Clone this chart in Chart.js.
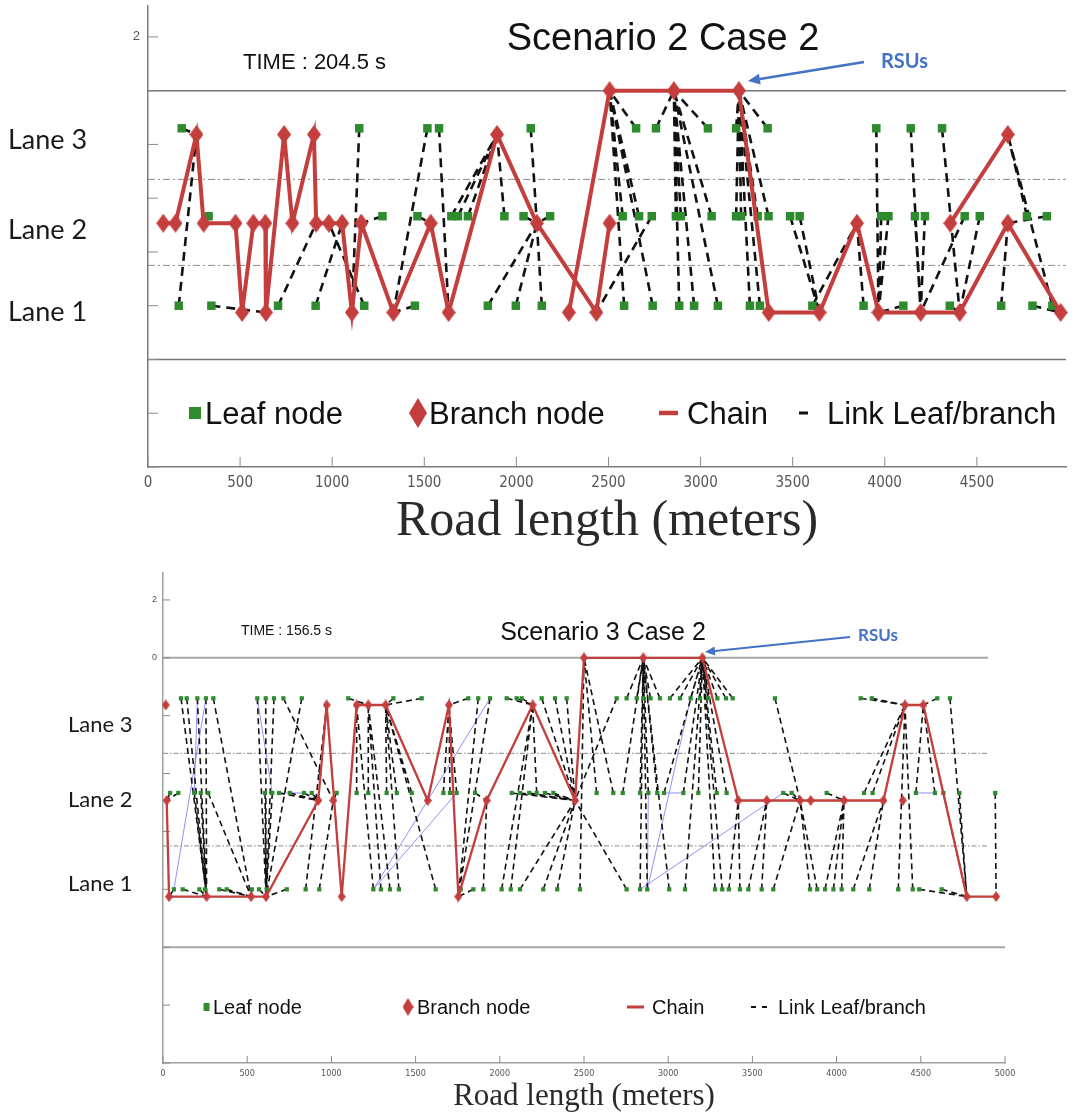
<!DOCTYPE html>
<html>
<head>
<meta charset="utf-8">
<script src="https://cdn.jsdelivr.net/npm/chart.js@4.4.0/dist/chart.umd.min.js"></script>
<style>
  html, body { margin: 0; padding: 0; background: #fff; }
  #wrap { position: relative; width: 1072px; height: 1118px; overflow: hidden; }
  canvas { position: absolute; left: 0; }
  #top { top: 0; }
  #bottom { top: 560px; }
</style>
</head>
<body>
<div id="wrap">
  <canvas id="top" width="1072" height="560"></canvas>
  <canvas id="bottom" width="1072" height="558"></canvas>
</div>
<script>
// y levels of each lane (RSU line = 0, road edge = -10)
var leafLevel = [null, -8.0, -4.67, -1.4];
var branchLevel = [null, -8.25, -4.93, -1.63, 0];
var laneDividers = [-3.3, -6.5];
var roadEdges = [0, -10];
var yTicks = [-14, -12, -10, -8, -6, -4, -2, 0, 2];
var legendLabels = ['Leaf node', 'Branch node', 'Chain', 'Link Leaf/branch'];

// ---- Scenario 2 Case 2 (top) ----
var s2XTicks = [0, 500, 1000, 1500, 2000, 2500, 3000, 3500, 4000, 4500];
var s2YLabels = [2];
// [x (m), lane]  lane 4 = RSU
var s2Branches = [
  [83, 2], [149, 2], [263, 3], [302, 2], [475, 2],
  [511, 1], [572, 2], [637, 2], [640, 1], [739, 3],
  [784, 2], [901, 3], [913, 2], [982, 2], [1054, 2],
  [1107, 1], [1158, 2], [1332, 1], [1535, 2], [1632, 1],
  [1895, 3], [2111, 2], [2434, 1], [2506, 2], [2285, 1],
  [2506, 4], [2855, 4], [3208, 4], [3370, 1], [3646, 1],
  [3849, 2], [3966, 1], [4195, 1], [4407, 1], [4668, 2],
  [4955, 1], [4356, 2], [4668, 3]
];
var s2Chains = [
  [0, 1, 2, 3, 4, 5, 6, 7, 8, 9, 10, 11, 12, 13, 14, 15, 16, 17, 18, 19, 20, 21, 22, 23],
  [24, 25, 26, 27, 28, 29, 30, 31, 32, 33, 34, 35],
  [36, 37]
];
// leaves: [x (m), linked branch index]
var s2Leaf3 = [[183, 2], [1147, 15], [1517, 17], [1580, 19], [2078, 21], [2650, 25], [2758, 26],
  [3040, 26], [3193, 27], [3364, 27], [3954, 31], [4141, 32], [4311, 33]];
var s2Leaf2 = [[329, 3], [1273, 16], [1463, 18], [1647, 20], [1683, 20], [1737, 20], [1935, 20],
  [2039, 21], [2183, 21], [2577, 25], [2666, 25], [2735, 22], [2866, 26], [2893, 26], [3060, 26],
  [3193, 27], [3220, 27], [3310, 27], [3369, 27], [3486, 29], [3538, 29], [3981, 31], [4020, 31],
  [4164, 32], [4218, 32], [4434, 32], [4516, 33], [4772, 37], [4880, 34]];
var s2Leaf1 = [[167, 2], [344, 8], [706, 12], [910, 14], [1174, 13], [1449, 17], [1845, 21],
  [1997, 21], [2138, 21], [2585, 25], [2740, 25], [2884, 26], [2965, 26], [3094, 26], [3268, 27],
  [3322, 27], [3607, 30], [3885, 30], [4101, 31], [4353, 33], [4632, 34], [4802, 35], [4910, 37]];

// ---- Scenario 3 Case 2 (bottom) ----
var s3XTicks = [0, 500, 1000, 1500, 2000, 2500, 3000, 3500, 4000, 4500, 5000];
var s3YLabels = [2, 0];
var s3Branches = [
  [16, 3], [22, 2], [36, 1], [259, 1], [523, 1],
  [612, 1], [922, 2], [972, 3], [1011, 2], [1061, 1],
  [1150, 3], [1219, 3], [1322, 3], [1572, 2], [1698, 3],
  [1754, 1], [1922, 2], [2195, 3], [2447, 2], [2500, 4],
  [2852, 4], [3203, 4], [3416, 2], [3585, 2], [3783, 2],
  [3846, 2], [4044, 2], [4278, 2], [4393, 2], [4406, 3],
  [4515, 3], [4773, 1], [4947, 1]
];
var s3Chains = [
  [1, 2, 3, 4, 5, 6, 7, 9, 10, 11, 12, 13, 14, 15, 16, 17, 18, 19, 20, 21, 22, 23, 24, 25, 26, 27, 29, 30, 31, 32]
];
var s3Leaf3 = [[107, 3], [141, 3], [204, 3], [255, 3], [299, 4], [560, 5], [610, 5], [659, 5],
  [715, 8], [824, 5], [1100, 11], [1368, 12], [1536, 12], [1813, 14], [1872, 15], [1942, 15],
  [2041, 17], [2100, 17], [2130, 17], [2249, 18], [2328, 18], [2397, 18], [2694, 18], [2753, 20],
  [2813, 20], [2852, 20], [2895, 20], [2951, 20], [3010, 21], [3070, 21], [3133, 21], [3189, 21],
  [3238, 21], [3292, 21], [3343, 21], [3383, 21], [3634, 24], [4143, 29], [4209, 29], [4598, 30],
  [4673, 31]];
var s3Leaf2 = [[42, 1], [91, 1], [186, 3], [224, 3], [269, 4], [606, 5], [649, 5], [689, 6],
  [754, 6], [837, 6], [883, 6], [1031, 8], [1150, 10], [1219, 11], [1328, 12], [1388, 12],
  [1477, 12], [1665, 14], [1704, 14], [1744, 14], [1853, 16], [2071, 18], [2120, 18], [2175, 18],
  [2219, 17], [2268, 18], [2318, 18], [2575, 19], [2674, 19], [2730, 20], [2833, 20], [2882, 20],
  [2935, 20], [2975, 21], [3090, 21], [3179, 21], [3288, 21], [3347, 21], [3683, 24], [3733, 24],
  [3941, 26], [4163, 29], [4214, 29], [4471, 30], [4584, 30], [4634, 31], [4729, 31], [4942, 32]];
var s3Leaf1 = [[65, 2], [117, 3], [216, 3], [249, 3], [334, 4], [378, 4], [527, 4], [570, 5],
  [616, 5], [735, 5], [847, 7], [928, 8], [1249, 10], [1294, 11], [1348, 11], [1401, 12],
  [1619, 12], [1768, 15], [1843, 15], [1902, 16], [2011, 17], [2065, 17], [2120, 18], [2258, 18],
  [2341, 18], [2476, 19], [2753, 18], [2833, 20], [2876, 20], [3006, 20], [3100, 21], [3278, 21],
  [3321, 21], [3360, 22], [3426, 22], [3476, 23], [3555, 23], [3624, 24], [3842, 24], [3885, 24],
  [3931, 26], [3981, 26], [4030, 26], [4099, 27], [4194, 27], [4366, 29], [4452, 29], [4491, 31],
  [4624, 31]];
// thin blue leaf-to-leaf lines: [x1, lane1, x2, lane2]
var s3BlueLinks = [[255, 3, 65, 1], [204, 3, 186, 2], [560, 3, 649, 2], [689, 2, 837, 2],
  [1249, 1, 1942, 3], [1249, 1, 1744, 2], [2876, 1, 3133, 3], [2882, 2, 2876, 1],
  [2833, 1, 3683, 2], [2975, 2, 3090, 2], [4471, 2, 4584, 2]];

var RED = '#C43E3E', GREEN = '#2E8B2E';

function diamond(w, h) {
  var c = document.createElement('canvas');
  c.width = w; c.height = h;
  var g = c.getContext('2d');
  g.fillStyle = RED;
  g.beginPath();
  g.moveTo(w / 2, 0); g.lineTo(w, h / 2); g.lineTo(w / 2, h); g.lineTo(0, h / 2);
  g.closePath(); g.fill();
  return c;
}

function buildPoints(branches, chains, leaves, blue) {
  var out = { branches: [], chain: [], leaves: [], links: [], blue: [] };
  branches.forEach(function (b) { out.branches.push({ x: b[0], y: branchLevel[b[1]] }); });
  [3, 2, 1].forEach(function (lane) {
    leaves[lane].forEach(function (l) {
      var b = branches[l[1]];
      out.leaves.push({ x: l[0], y: leafLevel[lane] });
      out.links.push({ x: l[0], y: leafLevel[lane] }, { x: b[0], y: branchLevel[b[1]] }, { x: b[0], y: null });
    });
  });
  chains.forEach(function (c) {
    c.forEach(function (i) { out.chain.push({ x: branches[i][0], y: branchLevel[branches[i][1]] }); });
    out.chain.push({ x: 0, y: null });
  });
  blue.forEach(function (l) {
    out.blue.push({ x: l[0], y: leafLevel[l[1]] }, { x: l[2], y: leafLevel[l[3]] }, { x: l[2], y: null });
  });
  return out;
}

function arrow(ctx, a, color) {
  var x1 = a[0], y1 = a[1], x2 = a[2], y2 = a[3], w = a[4], head = a[5];
  var ang = Math.atan2(y2 - y1, x2 - x1);
  var bx = x2 - head * Math.cos(ang), by = y2 - head * Math.sin(ang);
  ctx.strokeStyle = color; ctx.fillStyle = color; ctx.lineWidth = w;
  ctx.beginPath(); ctx.moveTo(x1, y1); ctx.lineTo(bx, by); ctx.stroke();
  ctx.beginPath(); ctx.moveTo(x2, y2);
  ctx.lineTo(bx + head * 0.45 * Math.sin(ang), by - head * 0.45 * Math.cos(ang));
  ctx.lineTo(bx - head * 0.45 * Math.sin(ang), by + head * 0.45 * Math.cos(ang));
  ctx.closePath(); ctx.fill();
}

function txt(ctx, s, x, y, font, color, align) {
  ctx.font = font; ctx.fillStyle = color;
  ctx.textAlign = align || 'left'; ctx.textBaseline = 'middle';
  ctx.fillText(s, x, y);
}

function decorPlugin(d) {
  return {
    id: 'decor',
    beforeDatasetsDraw: function (chart) {
      var ctx = chart.ctx, xs = chart.scales.x, ys = chart.scales.y, area = chart.chartArea;
      ctx.save();
      ctx.strokeStyle = d.edgeColor; ctx.lineWidth = d.edgeW;
      roadEdges.forEach(function (v, i) {
        var y = ys.getPixelForValue(v);
        ctx.beginPath(); ctx.moveTo(area.left, y); ctx.lineTo(xs.getPixelForValue(d.edgeEnds[i]), y); ctx.stroke();
      });
      ctx.strokeStyle = '#8a8a8a'; ctx.lineWidth = 1; ctx.setLineDash(d.dashDot);
      laneDividers.forEach(function (v) {
        var y = ys.getPixelForValue(v);
        ctx.beginPath(); ctx.moveTo(area.left, y); ctx.lineTo(xs.getPixelForValue(d.dividerEnd), y); ctx.stroke();
      });
      ctx.setLineDash([]);
      ctx.strokeStyle = '#8a8a8a'; ctx.lineWidth = 1;
      xs.ticks.forEach(function (t) {
        var x = xs.getPixelForValue(t.value);
        ctx.beginPath(); ctx.moveTo(x, area.bottom); ctx.lineTo(x, area.bottom - d.tickLen); ctx.stroke();
      });
      ys.ticks.forEach(function (t) {
        var y = ys.getPixelForValue(t.value);
        ctx.beginPath(); ctx.moveTo(area.left, y); ctx.lineTo(area.left + d.tickLen, y); ctx.stroke();
      });
      ctx.restore();
    },
    afterDraw: function (chart) {
      var ctx = chart.ctx, L = d.legend;
      ctx.save();
      d.lanes.forEach(function (l) { txt(ctx, l[0], d.laneX, l[1], d.laneFont, '#1a1a1a'); });
      txt(ctx, d.title[0], d.title[1], d.title[2], d.title[3], '#111', 'center');
      txt(ctx, d.time[0], d.time[1], d.time[2], d.time[3], '#111');
      txt(ctx, 'RSUs', d.rsu[0], d.rsu[1], d.rsu[2], '#4472C4');
      arrow(ctx, d.arrow, '#4472C4');
      // legend
      ctx.fillStyle = GREEN;
      ctx.fillRect(L.square[0] - L.square[1] / 2, L.y - L.square[2] / 2, L.square[1], L.square[2]);
      ctx.drawImage(L.diamond[1], L.diamond[0] - L.diamond[1].width / 2, L.y - L.diamond[1].height / 2);
      ctx.strokeStyle = RED; ctx.lineWidth = L.chain[2];
      ctx.beginPath(); ctx.moveTo(L.chain[0], L.y); ctx.lineTo(L.chain[1], L.y); ctx.stroke();
      ctx.strokeStyle = '#111'; ctx.lineWidth = L.dashW;
      L.dashes.forEach(function (s) { ctx.beginPath(); ctx.moveTo(s[0], L.y); ctx.lineTo(s[1], L.y); ctx.stroke(); });
      txt(ctx, legendLabels[0], L.text[0], L.textY, L.font, '#111');
      txt(ctx, legendLabels[1], L.text[1], L.textY, L.font, '#111');
      txt(ctx, legendLabels[2], L.text[2], L.textY, L.font, '#111');
      txt(ctx, legendLabels[3], L.text[3], L.textY, L.font, '#111');
      ctx.restore();
    }
  };
}

function makeChart(id, s) {
  var p = buildPoints(s.branches, s.chains, s.leaves, s.blue);
  var k = s.look;
  return new Chart(document.getElementById(id), {
    type: 'line',
    data: {
      datasets: [
        { label: 'Branch node', data: p.branches, showLine: false, pointStyle: k.diamond,
          pointRadius: 4, pointBorderWidth: 0, order: 0, clip: false },
        { label: 'Chain', data: p.chain, borderColor: RED, borderWidth: k.chainW, pointRadius: 0,
          spanGaps: false, order: 1 },
        { label: 'Leaf node', data: p.leaves, showLine: false, pointStyle: 'rect', pointRadius: k.leafR,
          pointBackgroundColor: GREEN, pointBorderWidth: 0, order: 2, clip: false },
        { label: 'Link Leaf/branch', data: p.links, borderColor: '#111', borderWidth: k.linkW,
          borderDash: k.linkDash, pointRadius: 0, spanGaps: false, order: 3 },
        { label: 'extra', data: p.blue, borderColor: 'rgba(110,110,240,0.75)', borderWidth: 1,
          pointRadius: 0, spanGaps: false, order: 4 }
      ]
    },
    options: {
      responsive: false,
      animation: false,
      devicePixelRatio: 1,
      events: [],
      layout: { padding: { left: 0, right: s.padRight, top: s.padTop, bottom: 0 } },
      elements: { line: { tension: 0 } },
      plugins: { legend: { display: false }, tooltip: { enabled: false } },
      scales: {
        x: {
          type: 'linear', min: 0, max: s.xMax,
          afterFit: function (sc) { sc.height = s.xAxisH; sc.paddingLeft = 0; sc.paddingRight = 0; },
          afterBuildTicks: function (sc) { sc.ticks = s.xTicks.map(function (v) { return { value: v }; }); },
          grid: { display: false, drawTicks: false },
          border: { display: true, color: s.axisColor, width: 1.5 },
          ticks: { color: '#555', autoSkip: false, maxRotation: 0, padding: s.xTickPad,
            font: { family: '"Liberation Sans Narrow", "DejaVu Sans Condensed", sans-serif', size: s.xTickSize },
            callback: function (v) { return String(v); } },
          title: { display: true, text: 'Road length (meters)', color: '#2a2a2a',
            font: { family: '"Liberation Serif", "Times New Roman", serif', size: s.xTitleSize },
            padding: { top: 0, bottom: s.xTitlePad } }
        },
        y: {
          type: 'linear', min: -14, max: s.yMax,
          afterFit: function (sc) { sc.width = s.yAxisW; sc.paddingTop = 0; sc.paddingBottom = 0; },
          afterBuildTicks: function (sc) { sc.ticks = yTicks.map(function (v) { return { value: v }; }); },
          grid: { display: false, drawTicks: false },
          border: { display: true, color: s.axisColor, width: 1.5 },
          ticks: { color: '#555', autoSkip: false, padding: s.yTickPad,
            font: { family: '"Liberation Sans", sans-serif', size: s.yTickSize },
            callback: function (v) { return s.yLabels.indexOf(v) >= 0 ? String(v) : ''; } }
        }
      }
    },
    plugins: [decorPlugin(s.deco)]
  });
}

makeChart('top', {
  branches: s2Branches, chains: s2Chains, leaves: { 1: s2Leaf1, 2: s2Leaf2, 3: s2Leaf3 }, blue: [],
  xMax: 4984, yMax: 3.15, xTicks: s2XTicks, yLabels: s2YLabels,
  padRight: 0, padTop: 4, xAxisH: 93, yAxisW: 148, axisColor: '#7a7a7a',
  xTickPad: 7, xTickSize: 15, xTitleSize: 50, xTitlePad: 8, yTickPad: 8, yTickSize: 13,
  look: { diamond: diamond(14, 19), chainW: 4, leafR: 6, linkW: 2.6, linkDash: [9, 6] },
  deco: {
    tickLen: 10, edgeW: 1.5, edgeColor: '#777', edgeEnds: [4984, 4984], dividerEnd: 4984, dashDot: [7, 3, 2, 3],
    laneFont: '27px Lato', laneX: 8, lanes: [['Lane 3', 140], ['Lane 2', 230], ['Lane 1', 312]],
    title: ['Scenario 2 Case 2', 663, 40, '38px "Liberation Sans"'],
    time: ['TIME : 204.5 s', 243, 63, '22px "Liberation Sans"'],
    rsu: [881, 62, 'bold 20px Lato'], arrow: [864, 62, 748, 81, 2.5, 12],
    legend: { y: 413, textY: 415, font: '31px "Liberation Sans"', square: [195, 12, 12],
      diamond: [418, diamond(18, 30)], chain: [659, 678, 4.5], dashes: [[799, 808]], dashW: 3,
      text: [205, 429, 687, 827] }
  }
});

makeChart('bottom', {
  branches: s3Branches, chains: s3Chains, leaves: { 1: s3Leaf1, 2: s3Leaf2, 3: s3Leaf3 }, blue: s3BlueLinks,
  xMax: 5000, yMax: 2.93, xTicks: s3XTicks, yLabels: s3YLabels,
  padRight: 67, padTop: 13, xAxisH: 55, yAxisW: 163, axisColor: '#a0a0a0',
  xTickPad: 5, xTickSize: 9, xTitleSize: 31, xTitlePad: 3, yTickPad: 6, yTickSize: 9,
  look: { diamond: diamond(8, 11), chainW: 2.3, leafR: 3, linkW: 1.6, linkDash: [6, 4] },
  deco: {
    tickLen: 7, edgeW: 2, edgeColor: '#a8a8a8', edgeEnds: [4900, 5000], dividerEnd: 4900, dashDot: [5, 2, 1.5, 2],
    laneFont: '22px Lato', laneX: 68, lanes: [['Lane 3', 165], ['Lane 2', 240], ['Lane 1', 324]],
    title: ['Scenario 3 Case 2', 603, 73, '25px "Liberation Sans"'],
    time: ['TIME : 156.5 s', 241, 71, '14px "Liberation Sans"'],
    rsu: [858, 76, 'bold 17px Lato'], arrow: [850, 77, 705, 92, 2.2, 10],
    legend: { y: 447, textY: 448, font: '20px "Liberation Sans"', square: [206.5, 6, 8],
      diamond: [408, diamond(11, 18)], chain: [627, 644, 3], dashes: [[751, 756], [762, 767]], dashW: 2,
      text: [213, 417, 652, 778] }
  }
});
</script>
</body>
</html>
